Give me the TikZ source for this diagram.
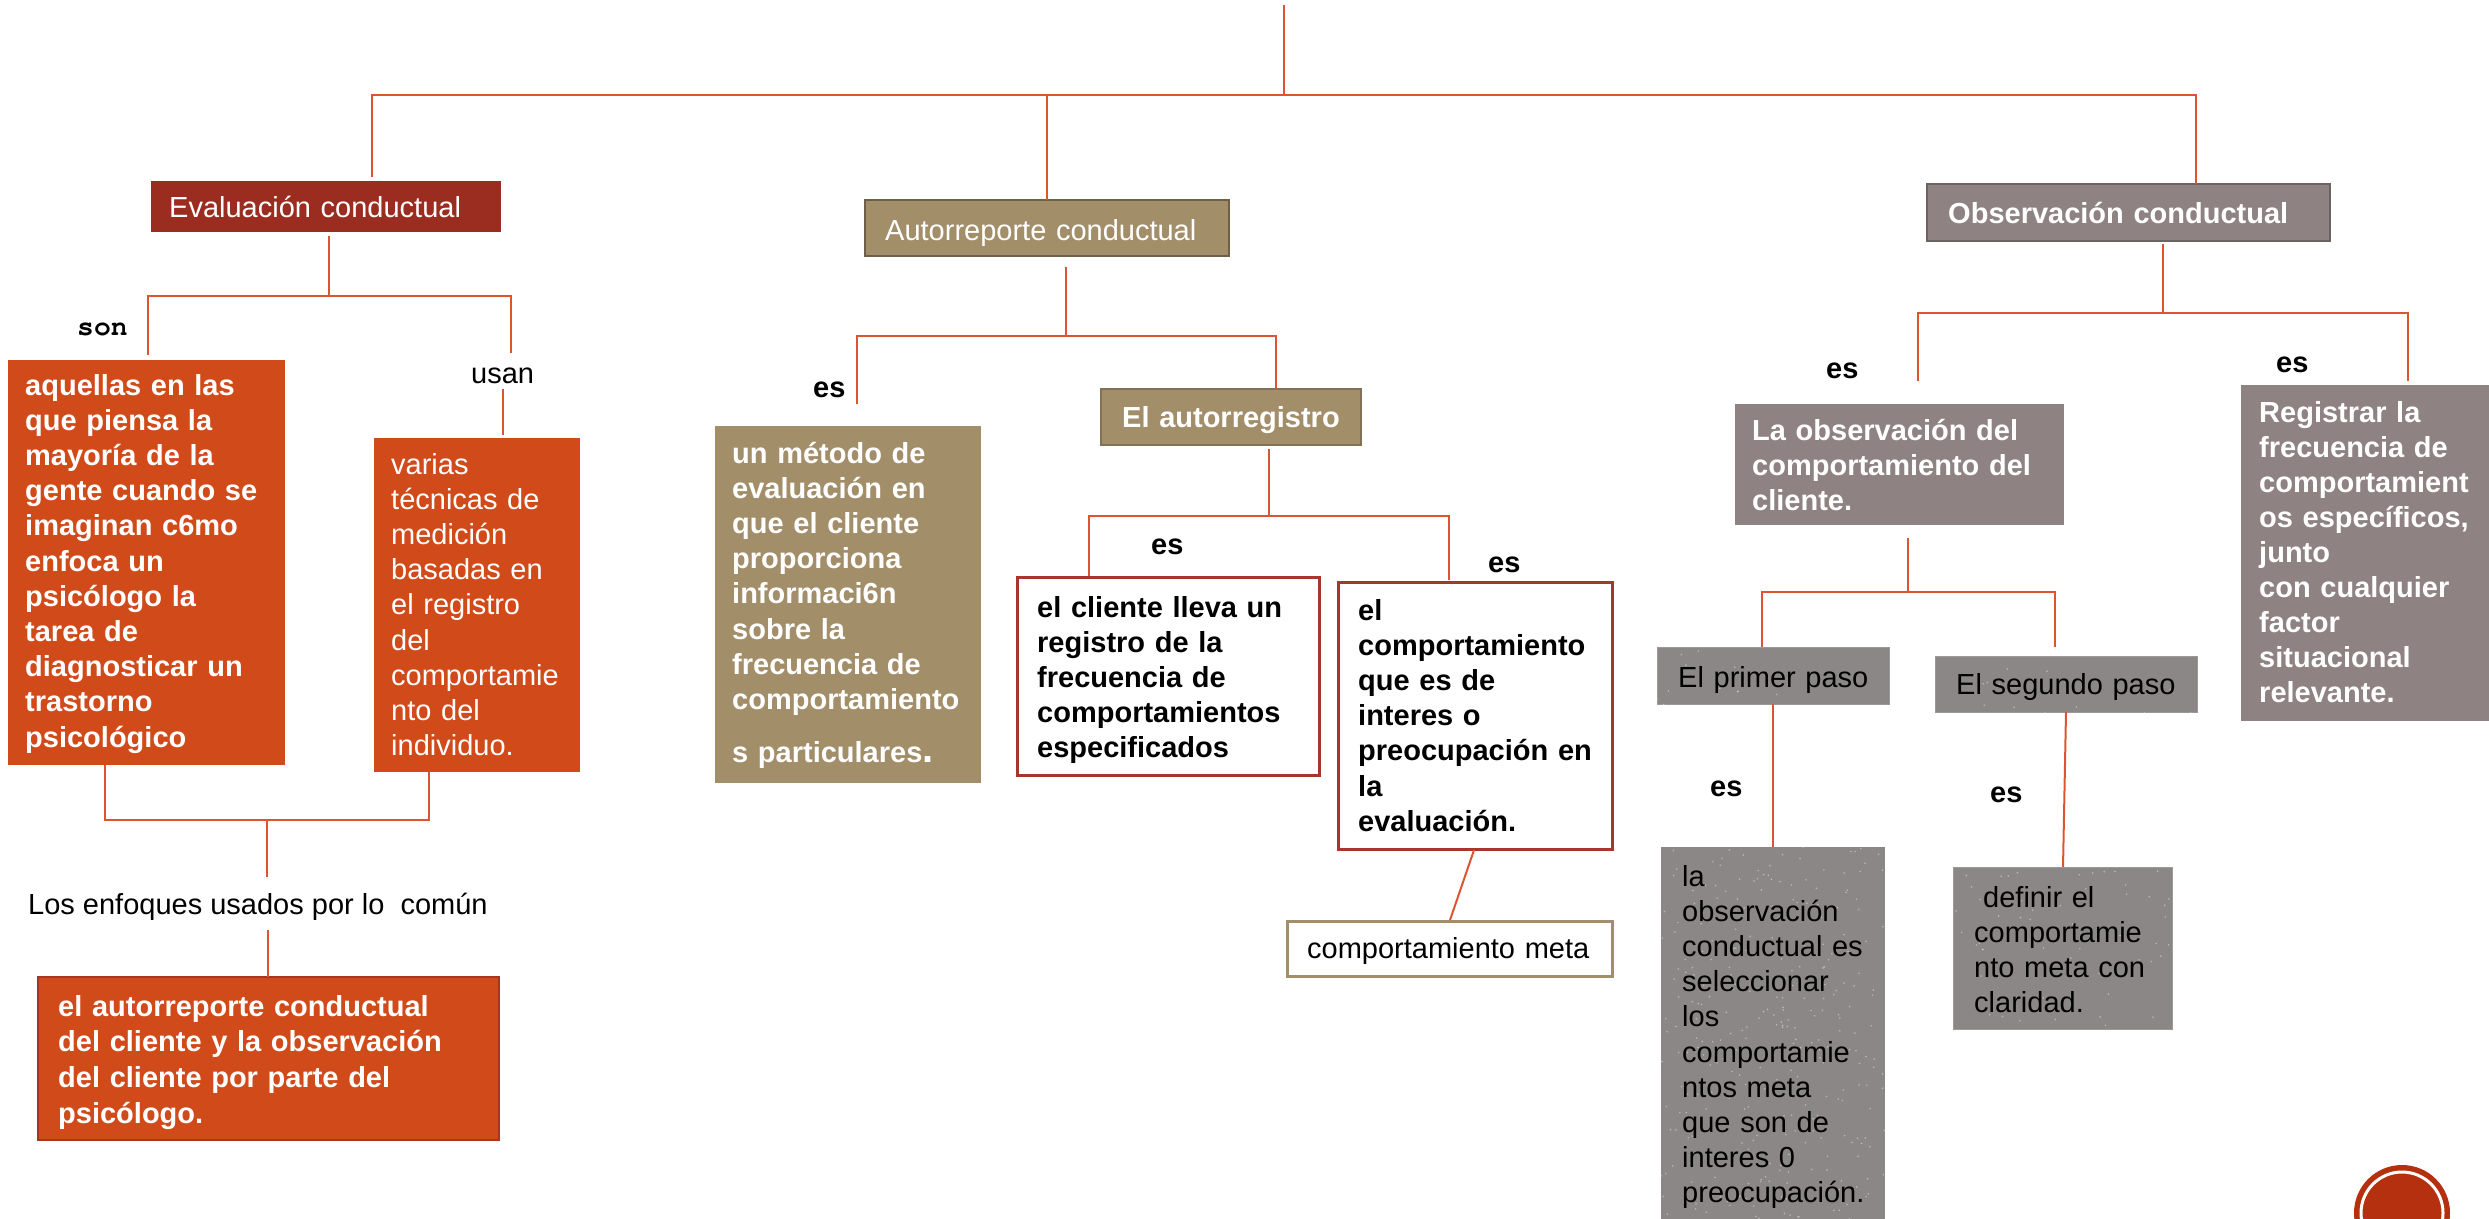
\documentclass[tikz,border=0pt]{standalone}
\usepackage{fontspec}
\setmainfont{Liberation Sans}
\usetikzlibrary{calc}
\definecolor{linec}{HTML}{DD5530}
\definecolor{evred}{HTML}{9B2D20}
\definecolor{orng}{HTML}{D04A1A}
\definecolor{orngdk}{HTML}{A8361C}
\definecolor{tanc}{HTML}{A38E6A}
\definecolor{tandk}{HTML}{6E6048}
\definecolor{mauve}{HTML}{8E8282}
\definecolor{mauvedk}{HTML}{6B6262}
\definecolor{tgray}{HTML}{8C8787}
\definecolor{redbd}{HTML}{A4392B}
\definecolor{circred}{HTML}{B5300F}
\newcommand\fsz{\fontsize{29}{35.2}\selectfont}
\newcommand\courb{\fontencoding{T1}\fontfamily{pcr}\fontseries{b}\fontsize{28}{28}\selectfont}
\newcommand\speckle[3]{%
  \begin{scope}
    \clip (#1.north west) rectangle (#1.south east);
    \foreach \i in {1,...,#3} {
      \fill[white, opacity=.4] ($(#1.north west)+({rnd*#2},{rnd*400})$) circle (0.9pt);
    }
  \end{scope}}
\begin{document}
\begin{tikzpicture}[x=1pt, y=-1pt,
  ln/.style={draw=linec, line width=2pt},
  bx/.style={anchor=north west, inner sep=0pt, outer sep=0pt},
  tx/.style={anchor=base west, inner sep=0pt, text width=480pt, align=left, font=\fsz},
  lbl/.style={anchor=base west, inner sep=0pt, font=\fsz\bfseries},
  plain/.style={anchor=base west, inner sep=0pt, font=\fsz}]
\useasboundingbox (0,0) rectangle (2489,1218);
\fill[white] (0,0) rectangle (2489,1218);
\pgfmathsetseed{7}

% ---------- boxes ----------
\node[bx, fill=evred, minimum width=350pt, minimum height=51pt] (ev) at (151,181) {};
\node[bx, fill=tanc, draw=tandk, line width=2.5pt, minimum width=364pt, minimum height=56pt] (ar) at (865,200) {};
\node[bx, fill=mauve, draw=mauvedk, line width=2.5pt, minimum width=403pt, minimum height=57pt] (ob) at (1927,184) {};
\node[bx, fill=orng, minimum width=277pt, minimum height=405pt] (aq) at (8,360) {};
\node[bx, fill=orng, minimum width=206pt, minimum height=334pt] (va) at (374,438) {};
\node[bx, fill=orng, draw=orngdk, line width=2pt, minimum width=461pt, minimum height=163pt] (bt) at (38,977) {};
\node[bx, fill=tanc, minimum width=266pt, minimum height=357pt] (um) at (715,426) {};
\node[bx, fill=tanc, draw=tanc!80!black, line width=2pt, minimum width=260pt, minimum height=56pt] (ea) at (1101,389) {};
\node[bx, fill=white, draw=redbd, line width=3pt, minimum width=302pt, minimum height=198pt] (ec) at (1017,577) {};
\node[bx, fill=white, draw=redbd, line width=3pt, minimum width=274pt, minimum height=267pt] (ecm) at (1338,582) {};
\node[bx, fill=white, draw=tanc, line width=3pt, minimum width=325pt, minimum height=55pt] (cm) at (1287,921) {};
\node[bx, fill=mauve, minimum width=329pt, minimum height=121pt] (lo) at (1735,404) {};
\node[bx, fill=mauve, minimum width=260pt, minimum height=336pt] (rg) at (2241,385) {};
\node[bx, fill=tgray, draw=tgray!85!white, line width=1pt, minimum width=232pt, minimum height=57pt] (p1) at (1657,647) {};
\node[bx, fill=tgray, draw=tgray!85!white, line width=1pt, minimum width=262pt, minimum height=56pt] (p2) at (1935,656) {};
\node[bx, fill=tgray, minimum width=224pt, minimum height=380pt] (lob) at (1661,847) {};
\node[bx, fill=tgray, draw=tgray!85!white, line width=1pt, minimum width=219pt, minimum height=162pt] (df) at (1953,867) {};
\speckle{p1}{232}{70}
\speckle{p2}{262}{75}
\speckle{lob}{224}{320}
\speckle{df}{219}{140}

% ---------- texts in boxes ----------
\node[tx, text=white] (ev-t) at (169,217) {Evaluación conductual};
\node[tx, text=white] (ar-t) at (885,240) {Autorreporte conductual};
\node[tx, text=white, font=\fsz\bfseries] (ob-t) at (1948,223) {Observación conductual};
\node[tx, text=white, font=\fsz\bfseries] (aq-t) at (25,395) {aquellas en las\\ que piensa la\\ mayoría de la\\ gente cuando se\\ imaginan c6mo\\ enfoca un\\ psicólogo la\\ tarea de\\ diagnosticar un\\ trastorno\\ psicológico};
\node[tx, text=white] (va-t) at (391,474) {varias\\ técnicas de\\ medición\\ basadas en\\ el registro\\ del\\ comportamie\\ nto del\\ individuo.};
\node[tx, text=white, font=\fontsize{29}{35.7}\selectfont\bfseries] (bt-t) at (58,1016) {el autorreporte conductual\\ del cliente y la observación\\ del cliente por parte del\\ psicólogo.};
\node[tx, text=white, font=\fsz\bfseries] (um-t) at (732,463) {un método de\\ evaluación en\\ que el cliente\\ proporciona\\ informaci6n\\ sobre la\\ frecuencia de\\ comportamiento\\[18pt] s particulares{\fontsize{40}{40}\selectfont.}};
\node[tx, text=white, font=\fsz\bfseries] (ea-t) at (1122,427) {El autorregistro};
\node[tx, font=\fsz\bfseries] (ec-t) at (1037,617) {el cliente lleva un\\ registro de la\\ frecuencia de\\ comportamientos\\ especificados};
\node[tx, font=\fsz\bfseries] (ecm-t) at (1358,620) {el\\ comportamiento\\ que es de\\ interes o\\ preocupación en\\ la\\ evaluación.};
\node[tx] (cm-t) at (1307,958) {comportamiento meta};
\node[tx, text=white, font=\fsz\bfseries] (lo-t) at (1752,440) {La observación del\\ comportamiento del\\ cliente.};
\node[tx, text=white, font=\fontsize{29}{35.1}\selectfont\bfseries] (rg-t) at (2259,422) {Registrar la\\ frecuencia de\\ comportamient\\ os específicos,\\ junto\\ con cualquier\\ factor\\ situacional\\ relevante.};
\node[tx] (p1-t) at (1678,687) {El primer paso};
\node[tx] (p2-t) at (1956,694) {El segundo paso};
\node[tx] (lob-t) at (1682,886) {la\\ observación\\ conductual es\\ seleccionar\\ los\\ comportamie\\ ntos meta\\ que son de\\ interes 0\\ preocupación.};
\node[tx] (df-t) at (1974,907) {\hspace*{9pt}definir el\\ comportamie\\ nto meta con\\ claridad.};

% ---------- labels ----------
\node[anchor=base west, inner sep=0pt, font=\courb] (son) at (77,335) {son};
\node[plain] (usan) at (471,383) {usan};
\node[plain] (le) at (28,914) {Los enfoques usados por lo\ \ común};
\node[lbl] (es1) at (813,397) {es};
\node[lbl] (es2) at (1151,554) {es};
\node[lbl] (es3) at (1488,572) {es};
\node[lbl] (es4) at (1826,378) {es};
\node[lbl] (es5) at (2276,372) {es};
\node[lbl] (es6) at (1710,796) {es};
\node[lbl] (es7) at (1990,802) {es};

% ---------- connectors ----------
\coordinate (root) at (1284,5);
\draw[ln] (root) -- ++(0,90);
\draw[ln] ($(ev.north west)+(221,-4)$) -- ++(0,-82) -| ($(ob.north west)+(269,0)$);
\draw[ln] ($(ar.north west)+(182,0)$) -- ++(0,-105);

\draw[ln] ($(ev.south)+(3,4)$) -- ++(0,60) -| ($(aq.north)+(1,-5)$);
\draw[ln] ($(ev.south)+(3,64)$) -| ++(182,57);
\draw[ln] ($(va.north west)+(129,-49)$) -- ($(va.north west)+(129,-3)$);
\draw[ln] ($(aq.south west)+(97,0)$) -- ++(0,55) -| ($(va.south west)+(55,0)$);
\draw[ln] ($(aq.south west)+(259,55)$) -- ++(0,57);
\draw[ln] ($(bt.north west)+(230,0)$) -- ++(0,-47);

\draw[ln] ($(ar.south west)+(201,11)$) -- ++(0,69) -| ($(um.north west)+(142,-22)$);
\draw[ln] ($(ar.south west)+(201,80)$) -| ($(ea.north west)+(175,0)$);

\draw[ln] ($(ea.south west)+(168,4)$) -- ++(0,67) -| ($(ec.north west)+(72,-1)$);
\draw[ln] ($(ea.south west)+(168,71)$) -| ($(ecm.north west)+(111,-2)$);
\draw[ln] ($(ecm.south west)+(136,1)$) -- ($(cm.north west)+(163,-1)$);

\draw[ln] ($(ob.south west)+(236,3)$) -- ++(0,69) -| ($(lo.north west)+(183,-23)$);
\draw[ln] ($(ob.south west)+(236,72)$) -| ($(rg.north west)+(167,-4)$);

\draw[ln] ($(lo.south west)+(173,13)$) -- ++(0,54) -| ($(p1.north west)+(105,0)$);
\draw[ln] ($(lo.south west)+(173,67)$) -| ($(p2.north west)+(120,-9)$);
\draw[ln] ($(p1.south west)+(116,0)$) -- ($(lob.north west)+(112,0)$);
\draw[ln] ($(p2.south west)+(131,0)$) -- ($(df.north west)+(110,0)$);

% ---------- corner emblem ----------
\fill[circred] (2402,1213) circle (48pt);
\draw[white, line width=3pt] (2402,1213) circle (41pt);
\end{tikzpicture}
\end{document}
